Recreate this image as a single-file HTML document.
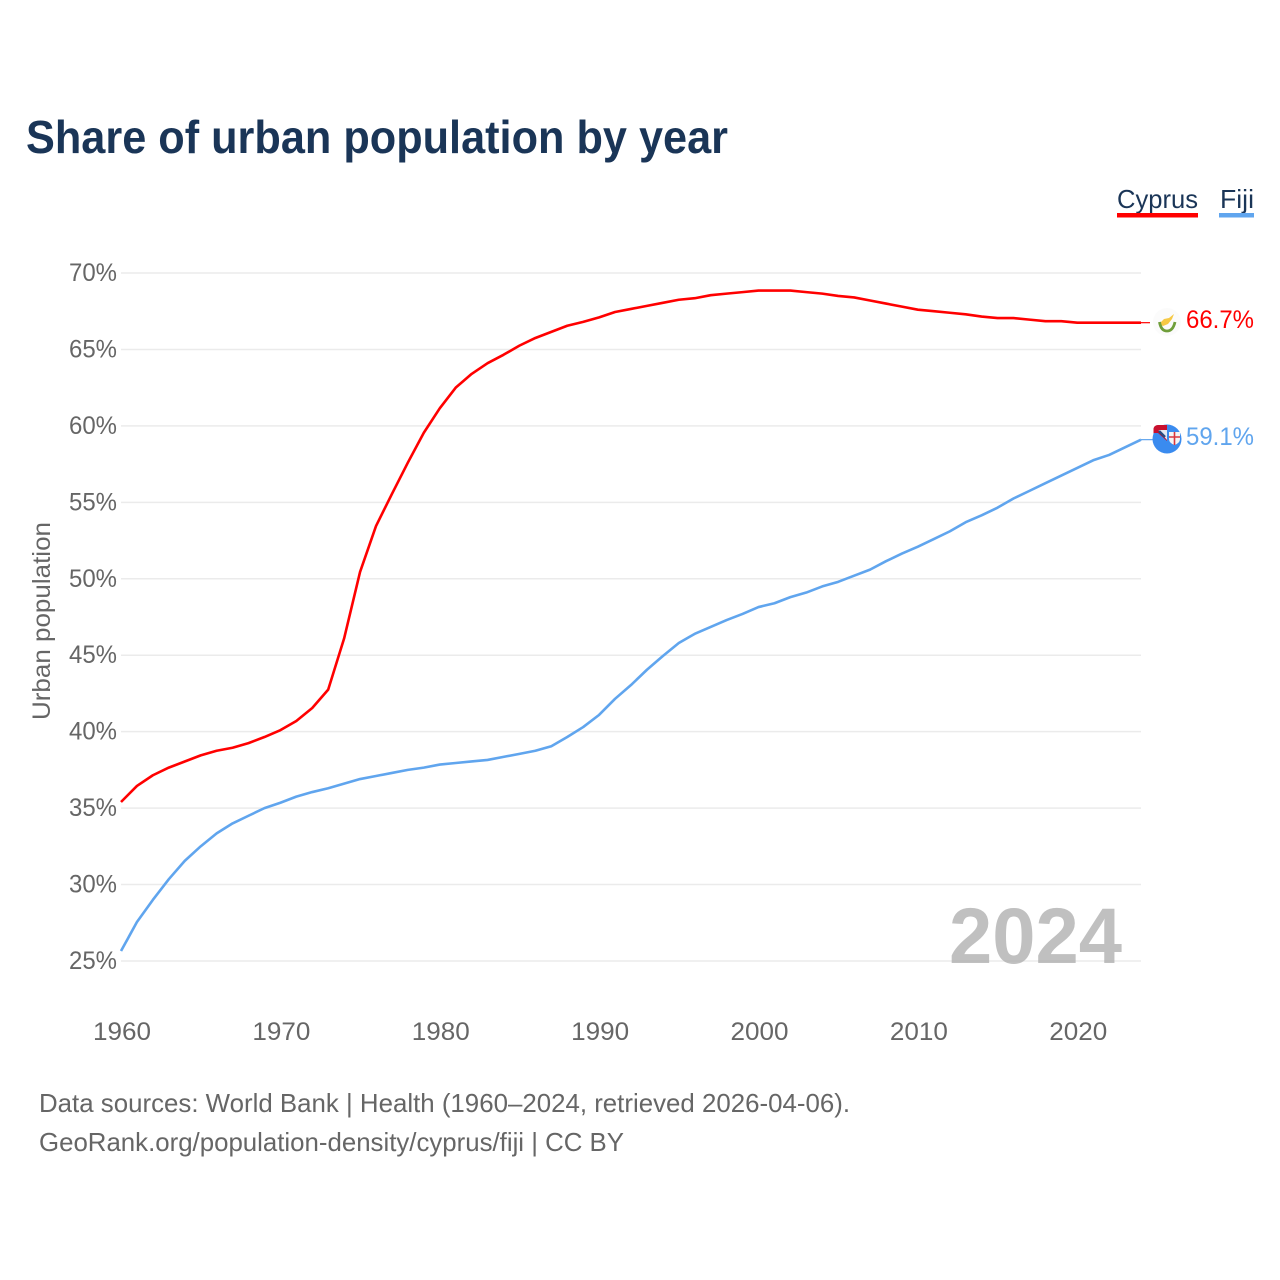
<!DOCTYPE html>
<html lang="en">
<head>
<meta charset="utf-8">
<title>Share of urban population by year</title>
<style>
html,body{margin:0;padding:0;background:#fff;width:1280px;height:1280px;overflow:hidden}
svg{display:block}
text{font-family:"Liberation Sans",sans-serif}
</style>
</head>
<body>
<svg id="chart" xmlns="http://www.w3.org/2000/svg" width="1280" height="1280" viewBox="0 0 1280 1280">
  <rect width="1280" height="1280" fill="#fff"/>
  <text x="26" y="153" font-size="46" font-weight="700" fill="#1a3557" textLength="702" lengthAdjust="spacingAndGlyphs">Share of urban population by year</text>

  <g>
    <g>
      <text x="1117" y="208" font-size="26" fill="#1a3557" textLength="81" lengthAdjust="spacingAndGlyphs">Cyprus</text>
      <rect x="1117" y="213" width="81" height="4.5" fill="#ff0000"/>
    </g>
    <g>
      <text x="1220" y="208" font-size="26" fill="#1a3557" textLength="34" lengthAdjust="spacingAndGlyphs">Fiji</text>
      <rect x="1219" y="213" width="35" height="4.5" fill="#60a5ee"/>
    </g>
  </g>

  <g id="grid"></g>
  <g id="yticks"></g>
  <g id="xticks"></g>

  <text transform="translate(50,621) rotate(-90)" text-anchor="middle" font-size="25" fill="#666" textLength="198" lengthAdjust="spacingAndGlyphs">Urban population</text>

  <text x="1122" y="963" text-anchor="end" font-size="79" font-weight="700" fill="#a8a8a8" fill-opacity="0.72" textLength="173" lengthAdjust="spacingAndGlyphs">2024</text>

  <g id="series"></g>

  <g id="end-markers">
    <g id="flag-cyprus">
      <circle cx="1167" cy="322" r="14" fill="#fbfbfb"/>
      <path d="M1159 324 L1164 319 L1169 318 L1174 314 L1172 319 L1168 324 L1163 326 Z" fill="#f6c945"/>
      <path d="M1159.500 322 Q1161 331 1167 331 Q1173 331 1175 322" fill="none" stroke="#6f9e3a" stroke-width="2.800"/>
    </g>
    <g id="flag-fiji">
      <path d="M1153.500 436 V430 Q1153.500 425 1158.500 425 H1167 V436 Z" fill="#c8102e"/>
      <circle cx="1167" cy="439" r="14.500" fill="#3a8bef"/>
      <path d="M1153.500 433 V430 Q1153.500 425 1158.500 425 H1167 V441 L1158 433 Z" fill="#c8102e"/>
      <path d="M1158.500 430 H1167 V440 Z" fill="#e4e9f2"/>
      <path d="M1159 431 L1165 437" stroke="#2b4a80" stroke-width="2.500"/>
      <path d="M1169 432 H1180 V439 Q1180 443 1174.500 445 Q1169 443 1169 439 Z" fill="#f4f4f4"/>
      <path d="M1174.500 432 V445 M1169 437 H1180" stroke="#d9363e" stroke-width="1.600"/>
    </g>
  </g>
  <g id="end-labels"></g>

  <text x="39" y="1112" font-size="26" fill="#666" textLength="811" lengthAdjust="spacingAndGlyphs">Data sources: World Bank | Health (1960–2024, retrieved 2026-04-06).</text>
  <text x="39" y="1151" font-size="26" fill="#666" textLength="585" lengthAdjust="spacingAndGlyphs">GeoRank.org/population-density/cyprus/fiji | CC BY</text>
</svg>

<script>
const years = [1960,1961,1962,1963,1964,1965,1966,1967,1968,1969,1970,1971,1972,1973,1974,1975,1976,1977,1978,1979,1980,1981,1982,1983,1984,1985,1986,1987,1988,1989,1990,1991,1992,1993,1994,1995,1996,1997,1998,1999,2000,2001,2002,2003,2004,2005,2006,2007,2008,2009,2010,2011,2012,2013,2014,2015,2016,2017,2018,2019,2020,2021,2022,2023,2024];
const cyprusValues = [35.4,36.45,37.15,37.65,38.05,38.45,38.75,38.95,39.25,39.65,40.1,40.7,41.55,42.75,46.1,50.45,53.45,55.55,57.6,59.55,61.15,62.5,63.4,64.1,64.65,65.25,65.75,66.15,66.55,66.8,67.1,67.45,67.65,67.85,68.05,68.25,68.35,68.55,68.65,68.75,68.85,68.85,68.85,68.75,68.65,68.5,68.4,68.2,68.0,67.8,67.6,67.5,67.4,67.3,67.15,67.05,67.05,66.95,66.85,66.85,66.75,66.75,66.75,66.75,66.75];
const fijiValues = [25.65,27.55,29.0,30.35,31.55,32.5,33.35,34.0,34.5,35.0,35.35,35.75,36.05,36.3,36.6,36.9,37.1,37.3,37.5,37.65,37.85,37.95,38.05,38.15,38.35,38.55,38.75,39.05,39.65,40.3,41.1,42.15,43.05,44.05,44.95,45.8,46.4,46.85,47.3,47.7,48.15,48.4,48.8,49.1,49.5,49.8,50.2,50.6,51.15,51.65,52.1,52.6,53.1,53.7,54.15,54.65,55.25,55.75,56.25,56.75,57.25,57.75,58.1,58.6,59.1];
const yTickValues = [25,30,35,40,45,50,55,60,65,70];
const xTickValues = [1960,1970,1980,1990,2000,2010,2020];
const cyprusLabel = "66.7%";
const fijiLabel = "59.1%";

const NS = "http://www.w3.org/2000/svg";
function xScale(year){ return 121 + (year - 1960) * (1141 - 121) / 64; }
function yScale(value){ return 961 - (value - 25) * (961 - 273) / 45; }
function make(tag, attrs, parent){
  const el = document.createElementNS(NS, tag);
  for (const k in attrs) el.setAttribute(k, attrs[k]);
  parent.appendChild(el);
  return el;
}

const grid = document.getElementById("grid");
const yticks = document.getElementById("yticks");
yTickValues.forEach(function(v){
  const line = make("line", {x1:121, x2:1141, y1:yScale(v), y2:yScale(v), stroke:"#ebebeb", "stroke-width":1.5}, grid);
  
  
  const t = make("text", {x:117, y:yScale(v)+8, "text-anchor":"end", "font-size":25, fill:"#666", textLength:48, lengthAdjust:"spacingAndGlyphs"}, yticks);
  
  
  t.textContent = v + "%";
});

const xticks = document.getElementById("xticks");
xTickValues.forEach(function(y){
  const t = make("text", {x:xScale(y)+1, y:1040, "text-anchor":"middle", "font-size":25, fill:"#666", textLength:58, lengthAdjust:"spacingAndGlyphs"}, xticks);
  
  
  t.textContent = y;
});

function linePath(values){
  return values.map(function(v,i){
    return (i ? "L" : "M") + xScale(years[i]).toFixed(2) + " " + yScale(v).toFixed(2);
  }).join(" ");
}
const series = document.getElementById("series");

const fijiLine = make("path", {d:linePath(fijiValues), fill:"none", stroke:"#60a5ee", "stroke-width":2.6, "stroke-linejoin":"round"}, series);



const cyprusLine = make("path", {d:linePath(cyprusValues), fill:"none", stroke:"#ff0000", "stroke-width":2.6, "stroke-linejoin":"round"}, series);



const lastIdx = years.length - 1;
const cyprusConn = make("line", {x1:xScale(years[lastIdx]), x2:1150, y1:yScale(cyprusValues[lastIdx]), y2:yScale(cyprusValues[lastIdx]), stroke:"#ff0000", "stroke-width":1.2}, series);



const fijiConn = make("line", {x1:xScale(years[lastIdx]), x2:1153, y1:yScale(fijiValues[lastIdx]), y2:yScale(fijiValues[lastIdx]), stroke:"#60a5ee", "stroke-width":1.2}, series);



const labels = document.getElementById("end-labels");
const cyprusText = make("text", {x:1186, y:328, "font-size":25, fill:"#ff0000", textLength:68, lengthAdjust:"spacingAndGlyphs"}, labels);


cyprusText.textContent = cyprusLabel;

const fijiText = make("text", {x:1186, y:445, "font-size":25, fill:"#60a5ee", textLength:68, lengthAdjust:"spacingAndGlyphs"}, labels);


fijiText.textContent = fijiLabel;
</script>
</body>
</html>
